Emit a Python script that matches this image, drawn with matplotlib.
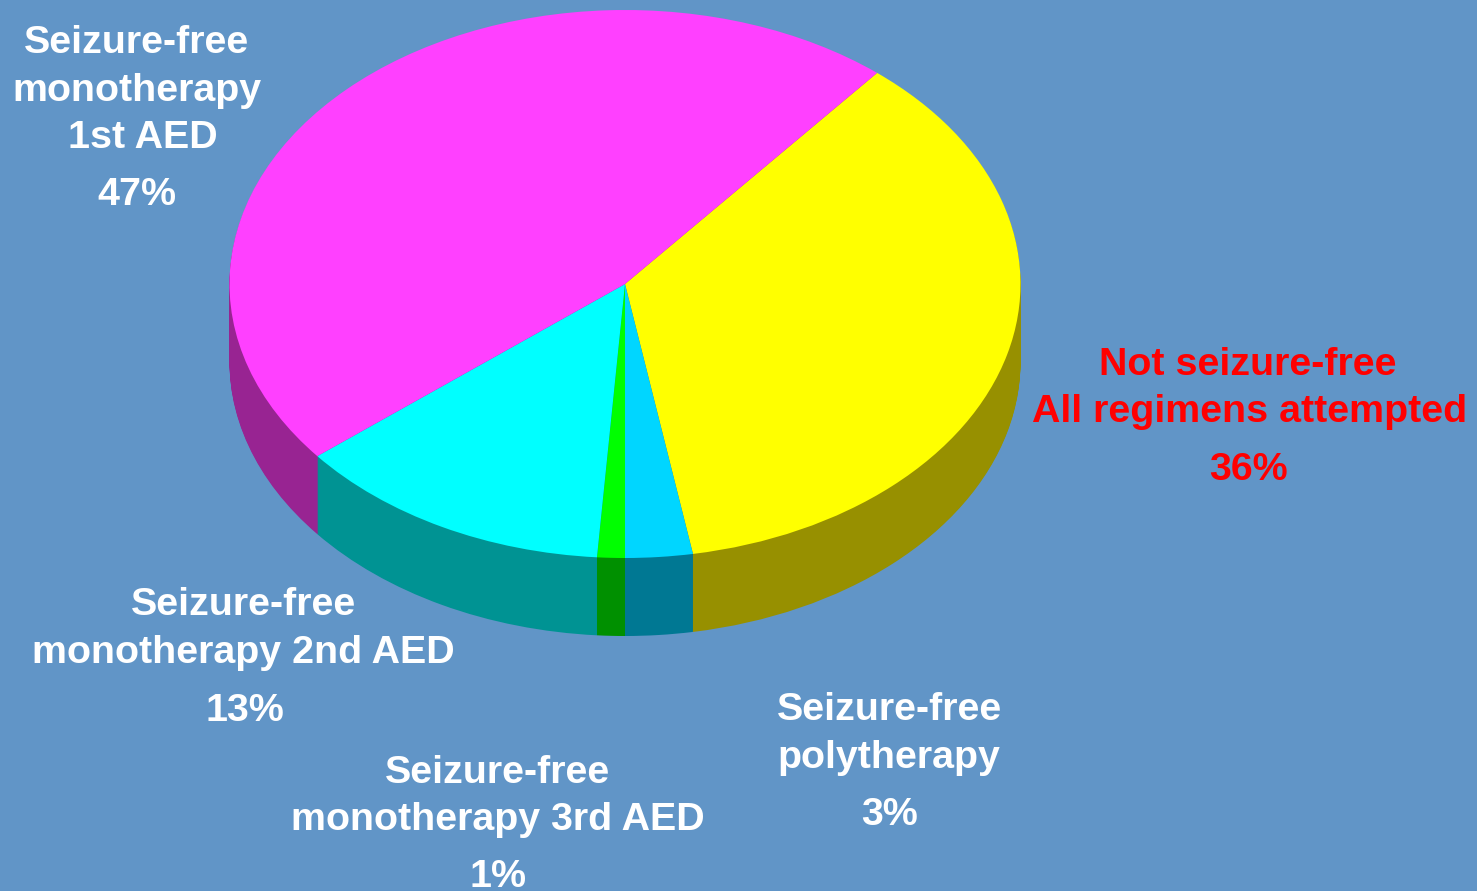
import numpy as np
import matplotlib
matplotlib.use('Agg')
import matplotlib.pyplot as plt

labels = ['Not seizure-free\nAll regimens attempted\n36%', 'Seizure-free\npolytherapy\n3%',
          'Seizure-free\nmonotherapy 3rd AED\n1%', 'Seizure-free\nmonotherapy 2nd AED\n13%',
          'Seizure-free\nmonotherapy\n1st AED\n47%']
#slice sizes, a bit different from the printed percentages
values = [36.25, 2.75, 1.13, 13.06, 46.81]
top_colors = ['#FFFF00', '#00D6FF', '#00FF00', '#00FFFF', '#FF40FF']
side_colors = ['#979000', '#007893', '#009000', '#009393', '#982492']
bg = '#6195C7'

W, H = 1477, 891
cx, cy, rx, ry, depth = 625, 284, 395.5, 274, 78
start = 50.4

plt.rcParams['font.family'] = ['Liberation Sans', 'DejaVu Sans']
fig = plt.figure(figsize=(W / 100, H / 100), dpi=100, facecolor=bg)

#tilted pie: normal pie in an axes that is wider than tall
ax = fig.add_axes([(cx - rx) / W, 1 - (cy + ry) / H, 2 * rx / W, 2 * ry / H])
for d in np.arange(depth, 0, -1):
    ax.pie(values, colors=side_colors, startangle=start, counterclock=False,
           center=(0, -d / ry), wedgeprops={'linewidth': 0, 'clip_on': False})
ax.pie(values, colors=top_colors, startangle=start, counterclock=False,
       wedgeprops={'linewidth': 0, 'clip_on': False})
ax.set_aspect('auto')
ax.set_xlim(-1, 1)
ax.set_ylim(-1, 1)

#labels, pixel coords
tx = fig.add_axes([0, 0, 1, 1])
tx.set_xlim(0, W)
tx.set_ylim(H, 0)
tx.axis('off')

def label(xs, lines, ys, color='white'):
    for s, x, y in zip(lines, xs, ys):
        tx.text(x, y, s, color=color, fontsize=28.4, fontweight='bold', ha='center', va='center')

label([137, 137, 143, 137], labels[4].split('\n'), [43, 91, 138, 195])
label([1248, 1250, 1248], labels[0].split('\n'), [365, 412, 470], color='#FF0000')
label([244, 243, 245], labels[3].split('\n'), [605, 653, 711])
label([498, 498, 498], labels[2].split('\n'), [773, 820, 877])
label([890, 889, 890], labels[1].split('\n'), [710, 758, 815])

fig.savefig('out.png', dpi=100, facecolor=bg)
